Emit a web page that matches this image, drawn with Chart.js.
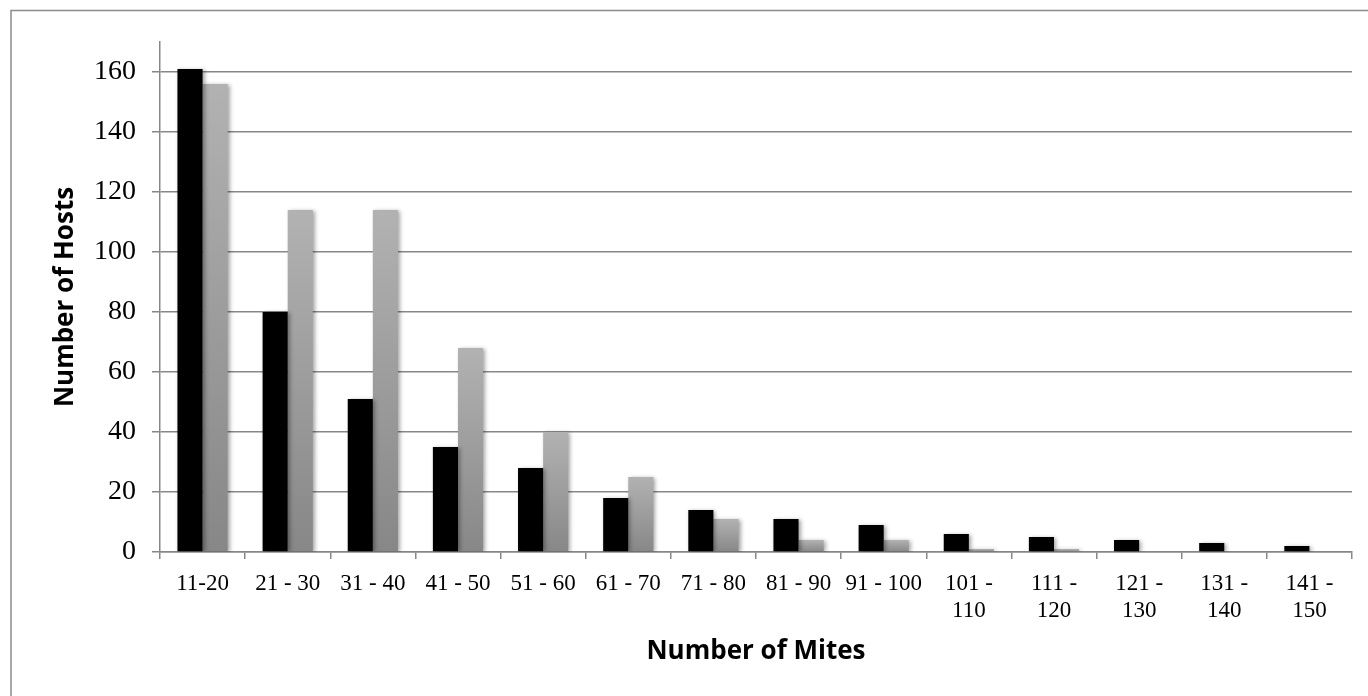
<!DOCTYPE html>
<html>
<head>
<meta charset="utf-8">
<script src="https://cdn.jsdelivr.net/npm/chart.js@4"></script>
<style>
  html, body { margin: 0; padding: 0; background: #fff; }
  #wrap { width: 1368px; height: 696px; position: relative; }
</style>
</head>
<body>
<div id="wrap"><canvas id="c" width="1368" height="696"></canvas></div>
<script>
const categories = ['11-20', '21 - 30', '31 - 40', '41 - 50', '51 - 60', '61 - 70', '71 - 80', '81 - 90', '91 - 100', ['101 -', '110'], ['111 -', '120'], ['121 -', '130'], ['131 -', '140'], ['141 -', '150']];
const seriesBlack = [161, 80, 51, 35, 28, 18, 14, 11, 9, 6, 5, 4, 3, 2];
const seriesGray = [156, 114, 114, 68, 40, 25, 11, 4, 4, 1, 1, 0, 0, 0];
const yTickValues = [0, 20, 40, 60, 80, 100, 120, 140, 160];
const xTitle = 'Number of Mites';
const yTitle = 'Number of Hosts';

const GRID = '#878787';

const framePlugin = {
  id: 'frame',
  beforeDraw(chart) {
    const ctx = chart.ctx;
    ctx.save();
    ctx.fillStyle = '#ffffff';
    ctx.fillRect(0, 0, chart.width, chart.height);
    ctx.strokeStyle = '#8c8c8c';
    ctx.lineWidth = 1.5;
    ctx.strokeRect(11, 10.5, 1400, 720);
    ctx.restore();
  },
  beforeDatasetsDraw(chart) {
    const ctx = chart.ctx;
    ctx.save();
    ctx.shadowColor = 'rgba(0,0,0,0.35)';
    ctx.shadowBlur = 4;
    ctx.shadowOffsetX = 2;
    ctx.shadowOffsetY = 1;
  },
  afterDatasetsDraw(chart) {
    chart.ctx.restore();
  }
};

function grayGradient(context) {
  const chart = context.chart;
  const area = chart.chartArea;
  if (!area) return '#9a9a9a';
  const y = chart.scales.y;
  const v = context.raw || 0;
  const top = y.getPixelForValue(v);
  const base = y.getPixelForValue(0);
  if (base - top < 1) return '#9a9a9a';
  const g = chart.ctx.createLinearGradient(0, top, 0, base);
  g.addColorStop(0, '#b2b2b2');
  g.addColorStop(1, '#878787');
  return g;
}

new Chart(document.getElementById('c'), {
  type: 'bar',
  data: {
    labels: categories,
    datasets: [
      { label: 'A', data: seriesBlack, backgroundColor: '#000000', borderWidth: 0 },
      { label: 'B', data: seriesGray, backgroundColor: grayGradient, borderWidth: 0 }
    ]
  },
  options: {
    responsive: false,
    animation: false,
    devicePixelRatio: 1,
    layout: { padding: { left: 0, top: 42, right: 16, bottom: 29 } },
    datasets: { bar: { categoryPercentage: 0.59, barPercentage: 1.0 } },
    plugins: { legend: { display: false }, tooltip: { enabled: false } },
    scales: {
      x: {
        offset: true,
        grid: { offset: true, drawOnChartArea: false, drawTicks: true, tickLength: 7, color: GRID, lineWidth: 1.5 },
        border: { display: true, color: GRID, width: 1.5 },
        ticks: {
          autoSkip: false, maxRotation: 0, minRotation: 0, padding: 11, color: '#000',
          font: { family: '"Liberation Serif", "Times New Roman", serif', size: 23, lineHeight: 1.2 }
        },
        title: {
          display: true, text: xTitle, color: '#000',
          font: { family: '"Open Sans", sans-serif', size: 26, weight: 'bold', lineHeight: 1.2 },
          padding: { top: 0, bottom: 0 }
        },
        afterFit(scale) { scale.height = 696 - 29 - 552; }
      },
      y: {
        min: 0, max: 170,
        afterBuildTicks(scale) { scale.ticks = yTickValues.map(v => ({ value: v })); },
        grid: { drawOnChartArea: true, drawTicks: true, tickLength: 8, color: GRID, lineWidth: 1.5 },
        border: { display: true, color: GRID, width: 1.5 },
        ticks: {
          padding: 16, color: '#000',
          font: { family: '"Liberation Serif", "Times New Roman", serif', size: 28 }
        },
        title: {
          display: true, text: yTitle, color: '#000',
          font: { family: '"Open Sans", sans-serif', size: 26, weight: 'bold', lineHeight: 1.2 },
          padding: { top: 50, bottom: 0 }
        },
        afterFit(scale) { scale.width = 160; }
      }
    }
  },
  plugins: [framePlugin]
});
</script>
</body>
</html>
